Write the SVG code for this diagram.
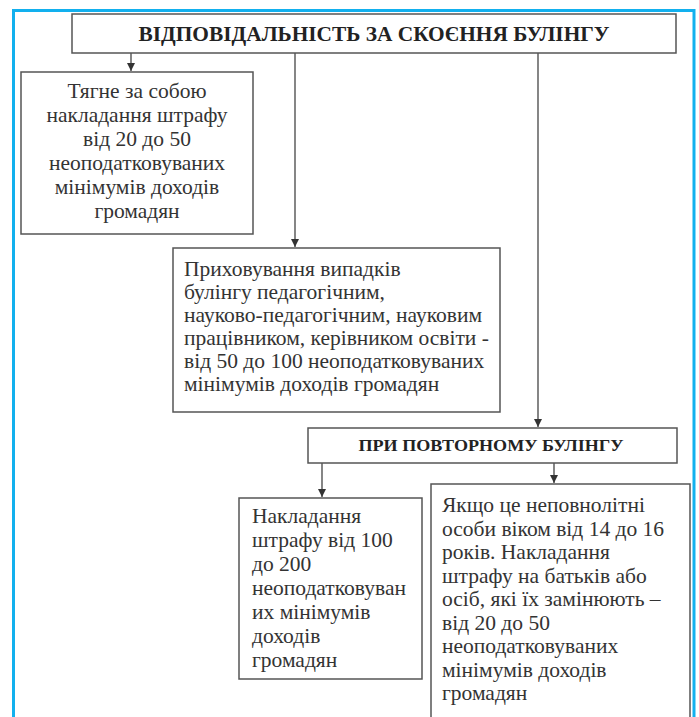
<svg xmlns="http://www.w3.org/2000/svg" width="699" height="717" viewBox="0 0 699 717">
<style>
.box{fill:#fff;stroke:#555;stroke-width:1.5}
.ln{stroke:#444;stroke-width:1.3;fill:none}
</style>
<defs>
<marker id="ah" viewBox="0 0 8 10" refX="8" refY="5" markerWidth="8" markerHeight="10" markerUnits="userSpaceOnUse" orient="auto">
<path d="M0,1 L8,5 L0,9 Z" fill="#333"/>
</marker>
</defs>
<rect x="0" y="0" width="699" height="717" fill="#fff"/>
<path d="M13.5,717 V10.5 H694 V717" fill="none" stroke="#12B0EE" stroke-width="3"/>
<g id="connectors">
<line class="ln" x1="131" y1="53" x2="131" y2="71" marker-end="url(#ah)"/>
<line class="ln" x1="295" y1="53" x2="295" y2="247" marker-end="url(#ah)"/>
<line class="ln" x1="538" y1="53" x2="538" y2="427" marker-end="url(#ah)"/>
<line class="ln" x1="322" y1="463" x2="322" y2="497" marker-end="url(#ah)"/>
<line class="ln" x1="554" y1="463" x2="554" y2="483" marker-end="url(#ah)"/>
</g>
<g style="font-family:'Liberation Serif',serif" font-size="21.5" fill="#333">
<g id="title">
<rect class="box" x="72" y="14" width="604" height="39"/>
<text x="374" y="41" text-anchor="middle" font-weight="bold" font-size="20" fill="#222" textLength="471" lengthAdjust="spacingAndGlyphs">ВІДПОВІДАЛЬНІСТЬ ЗА СКОЄННЯ БУЛІНГУ</text>
</g>
<g id="fine1" text-anchor="middle">
<rect class="box" x="21" y="72" width="232" height="162"/>
<text x="137" y="98">Тягне за собою</text>
<text x="137" y="122">накладання штрафу</text>
<text x="137" y="146">від 20 до 50</text>
<text x="137" y="170">неоподатковуваних</text>
<text x="137" y="194">мінімумів доходів</text>
<text x="137" y="218">громадян</text>
</g>
<g id="concealment">
<rect class="box" x="173" y="248" width="327" height="164"/>
<text x="184" y="276">Приховування випадків</text>
<text x="184" y="299">булінгу педагогічним,</text>
<text x="184" y="322">науково-педагогічним, науковим</text>
<text x="184" y="345">працівником, керівником освіти -</text>
<text x="184" y="368">від 50 до 100 неоподатковуваних</text>
<text x="184" y="391">мінімумів доходів громадян</text>
</g>
<g id="repeat">
<rect class="box" x="308" y="428" width="369" height="35"/>
<text x="491" y="451" text-anchor="middle" font-weight="bold" font-size="17" fill="#222" textLength="265" lengthAdjust="spacingAndGlyphs">ПРИ ПОВТОРНОМУ БУЛІНГУ</text>
</g>
<g id="fine2">
<rect class="box" x="239" y="498" width="183" height="181"/>
<text x="252" y="523">Накладання</text>
<text x="252" y="547">штрафу від 100</text>
<text x="252" y="571">до 200</text>
<text x="252" y="595">неоподатковуван</text>
<text x="252" y="619">их мінімумів</text>
<text x="252" y="643">доходів</text>
<text x="252" y="667">громадян</text>
</g>
<g id="minors">
<path class="box" d="M431,717 V484 H690 V717"/>
<text x="442" y="512">Якщо це неповнолітні</text>
<text x="442" y="535.5">особи віком від 14 до 16</text>
<text x="442" y="559">років. Накладання</text>
<text x="442" y="582.5">штрафу на батьків або</text>
<text x="442" y="606">осіб, які їх замінюють –</text>
<text x="442" y="629.5">від 20 до 50</text>
<text x="442" y="653">неоподатковуваних</text>
<text x="442" y="676.5">мінімумів доходів</text>
<text x="442" y="700">громадян</text>
</g>
</g>
</svg>
